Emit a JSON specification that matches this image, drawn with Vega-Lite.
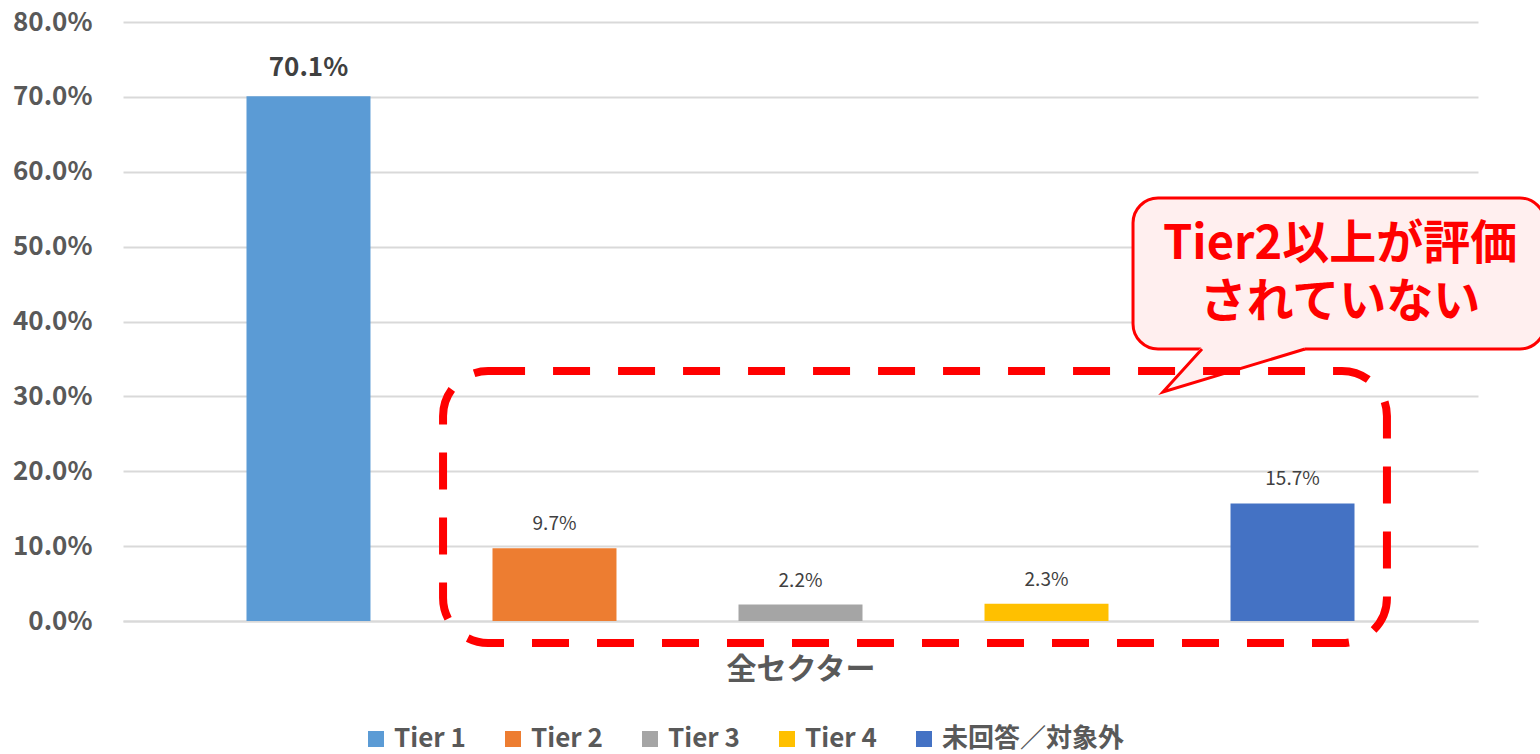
{
  "$schema": "https://vega.github.io/schema/vega-lite/v6.json",
  "width": 1355,
  "height": 599,
  "autosize": {"type": "none"},
  "padding": {"left": 123, "top": 22, "right": 62, "bottom": 133},
  "background": "white",
  "config": {"view": {"stroke": null}, "font": "Noto Sans CJK JP"},
  "datasets": {
    "bars": [
      {"series": "Tier 1", "value": 0.701},
      {"series": "Tier 2", "value": 0.097},
      {"series": "Tier 3", "value": 0.022},
      {"series": "Tier 4", "value": 0.023},
      {"series": "未回答／対象外", "value": 0.157}
    ],
    "box": [{"x": 23.62, "x2": 93.28, "y": 0.3339, "y2": -0.0294}],
    "bubble": [{"x": 74.54, "x2": 104.94, "y": 0.5649, "y2": 0.3633}],
    "tailFill": [
      {"x": 76.75, "y": 0.3058, "y2": 0.3058},
      {"x": 79.63, "y": 0.367, "y2": 0.3216},
      {"x": 87.23, "y": 0.367, "y2": 0.3633}
    ],
    "tailLine": [
      {"o": 1, "x": 79.63, "y": 0.3633},
      {"o": 2, "x": 76.75, "y": 0.3058},
      {"o": 3, "x": 87.23, "y": 0.3633}
    ],
    "callout": [
      {"x": 89.82, "y": 0.5022, "text": "Tier2以上が評価\nされていない"}
    ]
  },
  "layer": [
    {
      "data": {"name": "bars"},
      "layer": [
        {
          "mark": {"type": "bar"},
          "encoding": {
            "x": {
              "field": "series", "type": "nominal", "sort": null,
              "scale": {"paddingInner": 0.496, "paddingOuter": 0.502},
              "axis": {
                "labels": false, "ticks": false, "title": "全セクター",
                "titleFontSize": 30, "titleFontWeight": "bold", "titleColor": "#595959",
                "titlePadding": 33, "domainColor": "#D9D9D9", "domainWidth": 2
              }
            },
            "y": {
              "field": "value", "type": "quantitative",
              "scale": {"domain": [0, 0.8]},
              "axis": {
                "title": null, "values": [0, 0.1, 0.2, 0.3, 0.4, 0.5, 0.6, 0.7, 0.8],
                "format": ".1%", "labelFontSize": 26, "labelFontWeight": "bold",
                "labelColor": "#595959", "labelPadding": 31, "ticks": false, "domain": false,
                "gridColor": "#D9D9D9", "gridWidth": 2
              }
            },
            "color": {
              "field": "series", "type": "nominal", "sort": null,
              "scale": {
                "domain": ["Tier 1", "Tier 2", "Tier 3", "Tier 4", "未回答／対象外"],
                "range": ["#5B9BD5", "#ED7D31", "#A5A5A5", "#FFC000", "#4472C4"]
              },
              "legend": {
                "orient": "none", "legendX": 240, "legendY": 704, "direction": "horizontal",
                "title": null, "symbolType": "square", "symbolSize": 256, "symbolStrokeWidth": 0,
                "labelFontSize": 26, "labelFontWeight": "bold", "labelColor": "#595959",
                "columnPadding": 34, "labelOffset": 5, "labelLimit": 0
              }
            }
          }
        },
        {
          "transform": [{"filter": "datum.series === 'Tier 1'"}],
          "mark": {"type": "text", "fontWeight": "bold", "fontSize": 26, "color": "#404040", "baseline": "alphabetic", "dy": -20},
          "encoding": {
            "x": {"field": "series", "type": "nominal", "sort": null},
            "y": {"field": "value", "type": "quantitative"},
            "text": {"field": "value", "type": "quantitative", "format": ".1%"}
          }
        },
        {
          "transform": [{"filter": "datum.series !== 'Tier 1'"}],
          "mark": {"type": "text", "fontSize": 19, "color": "#404040", "baseline": "alphabetic", "dy": -18},
          "encoding": {
            "x": {"field": "series", "type": "nominal", "sort": null},
            "y": {"field": "value", "type": "quantitative"},
            "text": {"field": "value", "type": "quantitative", "format": ".1%"}
          }
        }
      ]
    },
    {
      "layer": [
        {
          "data": {"name": "bubble"},
          "mark": {"type": "rect", "fill": "#FFEFEF", "stroke": "#FF0000", "strokeWidth": 3, "cornerRadius": 25},
          "encoding": {
            "x": {"field": "x", "type": "quantitative", "scale": {"domain": [0, 100], "nice": false, "zero": false}, "axis": null},
            "x2": {"field": "x2"},
            "y": {"field": "y", "type": "quantitative", "scale": {"domain": [0, 0.8]}, "title": null},
            "y2": {"field": "y2"}
          }
        },
        {
          "data": {"name": "tailFill"},
          "mark": {"type": "area", "fill": "#FFEFEF", "strokeWidth": 0},
          "encoding": {
            "x": {"field": "x", "type": "quantitative", "scale": {"domain": [0, 100], "nice": false, "zero": false}, "axis": null},
            "y": {"field": "y", "type": "quantitative", "scale": {"domain": [0, 0.8]}, "title": null},
            "y2": {"field": "y2"}
          }
        },
        {
          "data": {"name": "tailLine"},
          "mark": {"type": "line", "color": "#FF0000", "strokeWidth": 3, "strokeJoin": "miter"},
          "encoding": {
            "x": {"field": "x", "type": "quantitative", "scale": {"domain": [0, 100], "nice": false, "zero": false}, "axis": null},
            "y": {"field": "y", "type": "quantitative", "scale": {"domain": [0, 0.8]}, "title": null},
            "order": {"field": "o", "type": "quantitative"}
          }
        },
        {
          "data": {"name": "box"},
          "mark": {"type": "rect", "filled": false, "stroke": "#FF0000", "strokeWidth": 8, "strokeDash": [37, 28], "cornerRadius": 45},
          "encoding": {
            "x": {"field": "x", "type": "quantitative", "scale": {"domain": [0, 100], "nice": false, "zero": false}, "axis": null},
            "x2": {"field": "x2"},
            "y": {"field": "y", "type": "quantitative", "scale": {"domain": [0, 0.8]}, "title": null},
            "y2": {"field": "y2"}
          }
        },
        {
          "data": {"name": "callout"},
          "mark": {"type": "text", "color": "#FF0000", "fontSize": 47, "fontWeight": "bold", "align": "center", "baseline": "middle", "lineBreak": "\n", "lineHeight": 58},
          "encoding": {
            "x": {"field": "x", "type": "quantitative", "scale": {"domain": [0, 100], "nice": false, "zero": false}, "axis": null},
            "y": {"field": "y", "type": "quantitative", "scale": {"domain": [0, 0.8]}, "title": null},
            "text": {"field": "text", "type": "nominal"}
          }
        }
      ]
    }
  ],
  "resolve": {"scale": {"x": "independent"}}
}
